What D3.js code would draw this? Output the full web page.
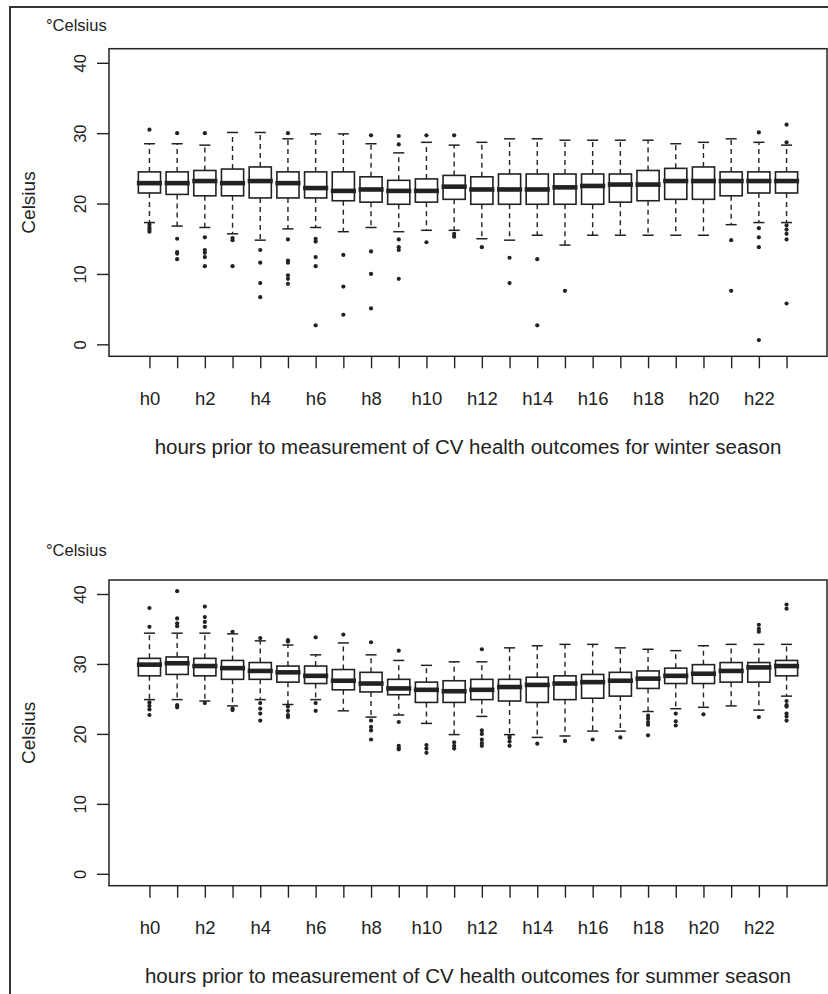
<!DOCTYPE html>
<html>
<head>
<meta charset="utf-8">
<script src="https://cdn.jsdelivr.net/npm/d3@7"></script>
<style>
  body { margin: 0; background: #fff; }
  svg { display: block; font-family: "Liberation Sans", Arial, sans-serif; }
</style>
</head>
<body>
<svg id="chart" width="828" height="994"></svg>
<script>
// hour categories (x axis)
const hours = ['h0','h1','h2','h3','h4','h5','h6','h7','h8','h9','h10','h11',
               'h12','h13','h14','h15','h16','h17','h18','h19','h20','h21','h22','h23'];
const yTicks = [0, 10, 20, 30, 40];

// winter season, °C
const winterLow  = [17.3,16.8,16.6,15.7,14.8,16.4,16.6,16.0,16.6,16.0,16.2,16.2,15.0,14.8,15.5,14.1,15.5,15.5,15.5,15.5,15.5,17.0,17.3,17.3];
const winterQ1   = [21.5,21.3,21.1,21.1,20.8,20.8,20.8,20.4,20.2,19.9,20.2,20.6,19.9,19.9,19.9,19.9,19.9,20.2,20.4,20.6,20.6,21.1,21.5,21.5];
const winterMed  = [22.9,22.9,23.2,22.9,23.2,22.9,22.2,21.8,22.0,21.8,21.8,22.4,22.0,22.0,22.0,22.3,22.5,22.7,22.7,23.2,23.2,23.2,23.2,23.2];
const winterQ3   = [24.5,24.5,24.7,24.9,25.2,24.5,24.5,24.5,23.8,23.3,23.5,24.0,23.8,24.2,24.2,24.2,24.2,24.2,24.7,25.0,25.2,24.5,24.5,24.5];
const winterHigh = [28.5,28.5,28.3,30.1,30.1,29.2,29.9,29.9,28.5,27.2,28.7,28.3,28.7,29.2,29.2,29.0,29.0,29.0,29.0,28.5,28.7,29.2,28.7,28.3];
const winterOut = [
  [30.5,17.0,16.6,16.3,16.0],
  [30.0,15.0,13.1,12.9,12.1],
  [30.0,15.2,13.4,13.0,12.4,11.1],
  [15.1,14.8,11.1],
  [13.4,11.6,8.7,6.7],
  [30.0,14.9,11.9,11.6,9.8,9.3,8.6],
  [15.0,14.6,12.4,11.1,2.7],
  [12.7,8.2,4.2],
  [29.7,13.2,10.0,5.1],
  [29.6,28.4,14.9,13.8,13.4,9.3],
  [29.7,14.5],
  [29.7,15.7,15.3],
  [13.8],
  [12.3,8.7],
  [12.1,2.7],
  [7.6],
  [], [], [], [], [],
  [14.8,7.6],
  [30.1,16.5,15.2,13.8,0.6],
  [31.2,28.7,16.9,16.3,15.7,14.9,5.8]
];

// summer season, °C
const summerLow  = [24.9,24.9,24.7,24.0,24.9,24.2,24.9,23.3,22.4,22.7,21.5,19.9,22.5,19.9,19.5,19.7,20.4,20.4,23.2,23.6,23.8,24.0,23.4,25.4];
const summerQ1   = [28.3,28.5,28.3,27.8,27.8,27.4,27.2,26.3,26.0,25.6,24.5,24.5,24.9,24.7,24.5,24.9,25.1,25.4,26.5,27.2,27.2,27.4,27.4,28.3];
const summerMed  = [29.9,30.1,29.7,29.4,29.0,28.8,28.3,27.6,27.2,26.5,26.3,26.1,26.3,26.7,27.0,27.2,27.4,27.6,27.9,28.3,28.6,29.0,29.5,29.7];
const summerQ3   = [30.8,31.0,30.8,30.5,30.2,29.7,29.7,29.2,28.8,27.8,27.4,27.6,27.8,27.8,28.1,28.3,28.5,28.8,29.0,29.4,29.9,30.2,30.2,30.5];
const summerHigh = [34.4,34.4,34.4,34.3,33.3,32.7,31.3,33.0,31.3,30.5,29.8,30.3,30.3,32.3,32.6,32.8,32.8,32.3,32.1,31.9,32.6,32.8,32.8,32.8];
const summerOut = [
  [38.0,35.3,24.5,24.0,23.5,22.7],
  [40.4,36.5,35.8,35.4,24.1,23.8],
  [38.2,36.7,36.0,35.3,24.4],
  [34.6,23.6,23.4],
  [33.7,24.4,23.6,22.9,21.9],
  [33.4,33.2,23.9,23.3,22.7,22.4],
  [33.8,24.4,23.3],
  [34.2],
  [33.1,21.9,21.0,20.5,19.2],
  [31.9,21.7,18.3,18.0,17.8],
  [18.4,17.9,17.3],
  [18.8,18.3,17.9],
  [32.1,20.5,20.0,19.2,18.7,18.3],
  [19.7,19.4,18.9,18.3],
  [18.6],
  [19.0],
  [19.2],
  [19.5],
  [22.6,22.2,21.7,21.3,19.8],
  [22.9,21.8,21.2],
  [22.8],
  [],
  [35.6,35.0,34.6,22.4],
  [38.5,37.9,24.7,24.1,23.9,22.9,22.5,21.9]
];

const ink = '#222';

class boxPanel {
  constructor(_config) {
    this.config = {
      frameTop: _config.frameTop,
      frameBottom: _config.frameBottom,
      frameLeft: _config.frameLeft || 109,
      frameRight: _config.frameRight || 827,
      unitY: _config.unitY,
      xlab: _config.xlab
    };
    this.low = _config.low;
    this.q1 = _config.q1;
    this.med = _config.med;
    this.q3 = _config.q3;
    this.high = _config.high;
    this.out = _config.out;
    this.initVis();
  }

  initVis() {
    let vis = this;
    const c = vis.config;
    const svg = d3.select('svg#chart');
    const g = svg.append('g');

    // R style: xlim 0.5..24.5 (boxes 1..24) plus 4% on each side
    vis.x = d3.scaleLinear()
      .domain([-1.46, 24.46])
      .range([c.frameLeft, c.frameRight]);
    vis.y = d3.scaleLinear()
      .domain([-1.7, 42])
      .range([c.frameBottom, c.frameTop]);

    const boxW = vis.x(0.8) - vis.x(0);

    // y axis
    const yAxis = g.append('g')
      .attr('transform', `translate(${c.frameLeft},0)`)
      .call(d3.axisLeft(vis.y).tickValues(yTicks).tickSize(12))
      .call(a => a.select('.domain').remove());
    yAxis.selectAll('line').attr('stroke', ink).attr('stroke-width', 1.4);
    yAxis.selectAll('text')
      .attr('fill', ink)
      .style('font-size', '16.5px')
      .attr('text-anchor', 'middle')
      .attr('transform', 'rotate(-90)')
      .attr('x', 0)
      .attr('y', -29)
      .attr('dy', '0.35em');

    // x axis, R drops the odd labels because they would overlap
    const xAxis = g.append('g')
      .attr('transform', `translate(0,${c.frameBottom})`)
      .call(d3.axisBottom(vis.x)
        .tickValues(d3.range(hours.length))
        .tickSize(12)
        .tickFormat(i => i % 2 === 0 ? hours[i] : ''))
      .call(a => a.select('.domain').remove());
    xAxis.selectAll('line').attr('stroke', ink).attr('stroke-width', 1.4);
    xAxis.selectAll('text')
      .attr('fill', ink)
      .style('font-size', '18.5px')
      .attr('y', 48.5)
      .attr('dy', 0);

    // boxes
    const rows = hours.map((h, i) => ({
      i: i, low: vis.low[i], q1: vis.q1[i], med: vis.med[i],
      q3: vis.q3[i], high: vis.high[i], out: vis.out[i]
    }));

    const boxes = g.append('g')
      .selectAll('g')
      .data(rows)
      .enter()
      .append('g')
      .attr('transform', d => `translate(${vis.x(d.i)},0)`);

    boxes.append('line')
      .attr('y1', d => vis.y(d.q3)).attr('y2', d => vis.y(d.high))
      .attr('stroke', ink).attr('stroke-width', 1.4).attr('stroke-dasharray', '5,4');
    boxes.append('line')
      .attr('y1', d => vis.y(d.q1)).attr('y2', d => vis.y(d.low))
      .attr('stroke', ink).attr('stroke-width', 1.4).attr('stroke-dasharray', '5,4');
    boxes.append('line')
      .attr('x1', -boxW / 4).attr('x2', boxW / 4)
      .attr('y1', d => vis.y(d.high)).attr('y2', d => vis.y(d.high))
      .attr('stroke', ink).attr('stroke-width', 1.5);
    boxes.append('line')
      .attr('x1', -boxW / 4).attr('x2', boxW / 4)
      .attr('y1', d => vis.y(d.low)).attr('y2', d => vis.y(d.low))
      .attr('stroke', ink).attr('stroke-width', 1.5);
    boxes.append('rect')
      .attr('x', -boxW / 2)
      .attr('width', boxW)
      .attr('y', d => vis.y(d.q3))
      .attr('height', d => vis.y(d.q1) - vis.y(d.q3))
      .attr('fill', '#fff')
      .attr('stroke', ink)
      .attr('stroke-width', 1.6);
    boxes.append('line')
      .attr('x1', -boxW / 2 - 1.5).attr('x2', boxW / 2 + 1.5)
      .attr('y1', d => vis.y(d.med)).attr('y2', d => vis.y(d.med))
      .attr('stroke', ink).attr('stroke-width', 4.6);
    boxes.selectAll('circle')
      .data(d => d.out)
      .enter()
      .append('circle')
      .attr('r', 2.1)
      .attr('cy', v => vis.y(v))
      .attr('fill', ink);

    // plot frame
    g.append('rect')
      .attr('x', c.frameLeft)
      .attr('y', c.frameTop)
      .attr('width', c.frameRight - c.frameLeft)
      .attr('height', c.frameBottom - c.frameTop)
      .attr('fill', 'none')
      .attr('stroke', ink)
      .attr('stroke-width', 1.5);

    // labels
    g.append('text')
      .text('°Celsius')
      .attr('x', 46)
      .attr('y', c.unitY + 6)
      .attr('fill', ink)
      .style('font-size', '16.5px');

    g.append('text')
      .text('Celsius')
      .attr('text-anchor', 'middle')
      .attr('transform', `translate(35,${(c.frameTop + c.frameBottom) / 2}) rotate(-90)`)
      .attr('fill', ink)
      .style('font-size', '19px');

    g.append('text')
      .text(c.xlab)
      .attr('text-anchor', 'middle')
      .attr('x', (c.frameLeft + c.frameRight) / 2)
      .attr('y', c.frameBottom + 97.5)
      .attr('fill', ink)
      .style('font-size', '20.5px');
  }
}

// outer border (only top and left edges show)
d3.select('svg#chart').append('path')
  .attr('d', 'M10,1000V7H830')
  .attr('fill', 'none')
  .attr('stroke', '#333')
  .attr('stroke-width', 2);

new boxPanel({
  frameTop: 48.7, frameBottom: 356.3, unitY: 25,
  low: winterLow, q1: winterQ1, med: winterMed, q3: winterQ3, high: winterHigh, out: winterOut,
  xlab: 'hours prior to measurement of CV health outcomes for winter season'
});

new boxPanel({
  frameTop: 580, frameBottom: 885.7, unitY: 550,
  low: summerLow, q1: summerQ1, med: summerMed, q3: summerQ3, high: summerHigh, out: summerOut,
  xlab: 'hours prior to measurement of CV health outcomes for summer season'
});
</script>
</body>
</html>
